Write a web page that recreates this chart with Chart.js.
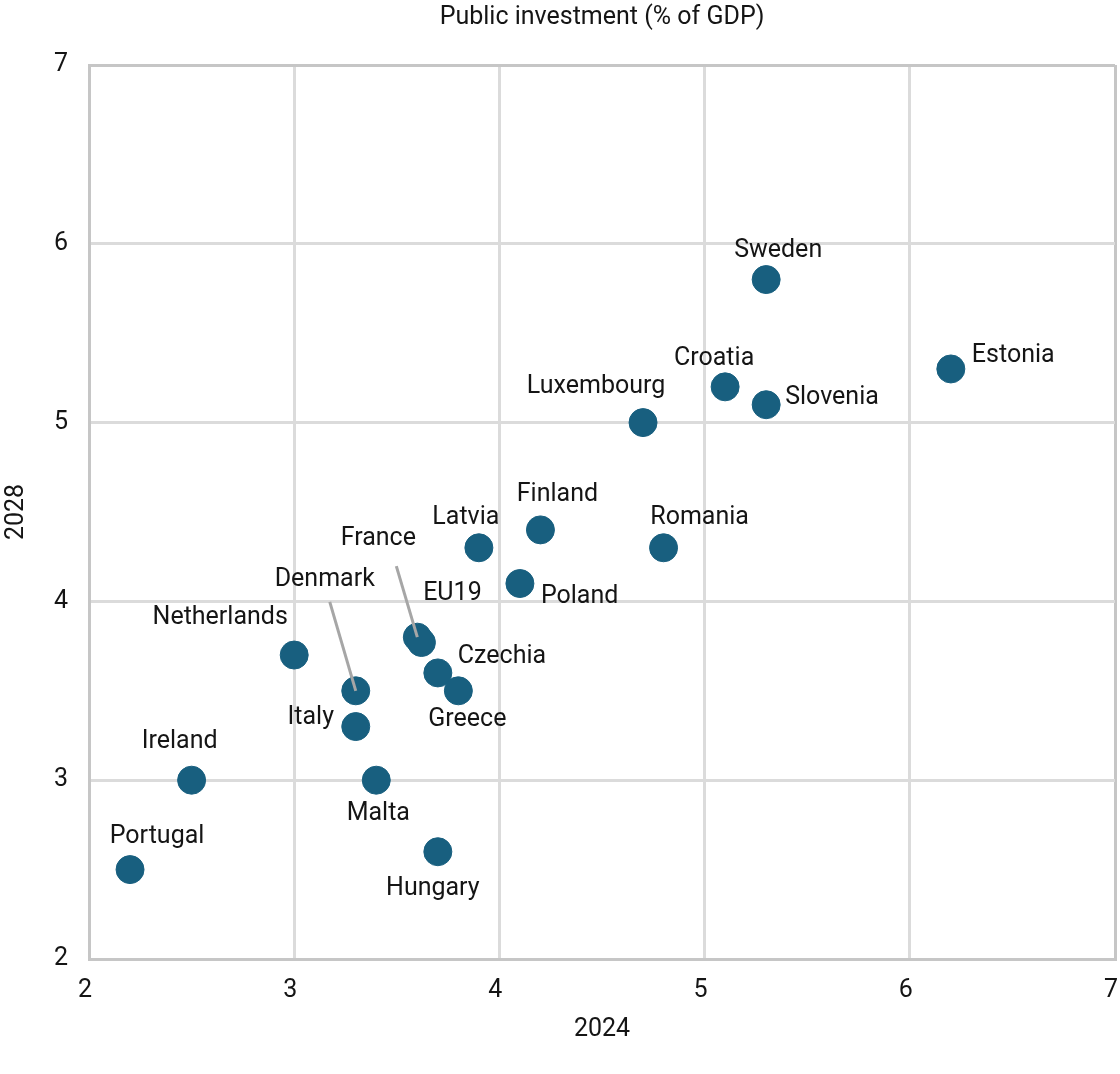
<!DOCTYPE html>
<html>
<head>
<meta charset="utf-8">
<script src="https://cdn.jsdelivr.net/npm/chart.js@4"></script>
<style>
    body { margin: 0; background: #fff; }
    #wrap { width: 1120px; height: 1074px; }
</style>
</head>
<body>
<div id="wrap"><canvas id="scatterChart" width="1120" height="1074"></canvas></div>
<script>
// Data
const countries = ['Portugal', 'Ireland', 'Netherlands', 'Denmark', 'Italy', 'Malta', 'France', 'EU19', 'Czechia', 'Hungary',
    'Greece', 'Latvia', 'Poland', 'Finland', 'Luxembourg', 'Romania', 'Croatia', 'Sweden', 'Slovenia', 'Estonia'];
const invest2024 = [2.2, 2.5, 3.0, 3.3, 3.3, 3.4, 3.6, 3.62, 3.7, 3.7, 3.8, 3.9, 4.1, 4.2, 4.7, 4.8, 5.1, 5.3, 5.3, 6.2];
const invest2028 = [2.5, 3.0, 3.7, 3.5, 3.3, 3.0, 3.8, 3.77, 3.6, 2.6, 3.5, 4.3, 4.1, 4.4, 5.0, 4.3, 5.2, 5.8, 5.1, 5.3];
const axisTicks = [2, 3, 4, 5, 6, 7];

const chartTitle = 'Public investment (% of GDP)';
const xTitle = '2024';
const yTitle = '2028';

// Label placement (pixel offsets from the point)
const labelPlacement = {
    Portugal: [27, -33, 'center'], Ireland: [-12, -38, 'center'], Netherlands: [-74, -37, 'center'],
    Denmark: [-31, -111, 'center'], Italy: [-45, -9, 'center'], Malta: [2, 34, 'center'],
    France: [-39, -98, 'center'], EU19: [31, -49, 'center'], Czechia: [20, -16, 'left'],
    Hungary: [-5, 37, 'center'], Greece: [9, 29, 'center'], Latvia: [-13, -30, 'center'],
    Poland: [21, 13, 'left'], Finland: [17, -35, 'center'], Luxembourg: [-47, -36, 'center'],
    Romania: [36, -30, 'center'], Croatia: [-11, -28, 'center'], Sweden: [12, -29, 'center'],
    Slovenia: [19, -7, 'left'], Estonia: [21, -13, 'left']
};
const leaders = { France: [-21, -71], Denmark: [-26, -89] };

const FONT = 'Roboto, "Liberation Sans", sans-serif';
const TEXT = '#151515';

const labelPlugin = {
    id: 'pointLabels',
    afterDatasetsDraw(chart) {
        const ctx = chart.ctx;
        const meta = chart.getDatasetMeta(0);
        ctx.save();
        // leader lines
        ctx.strokeStyle = '#a6a6a6';
        ctx.lineWidth = 3;
        countries.forEach((name, i) => {
            if (!leaders[name]) return;
            const p = meta.data[i];
            ctx.beginPath();
            ctx.moveTo(p.x + leaders[name][0], p.y + leaders[name][1]);
            ctx.lineTo(p.x, p.y);
            ctx.stroke();
        });
        ctx.font = '25px ' + FONT;
        ctx.fillStyle = TEXT;
        ctx.textBaseline = 'middle';
        countries.forEach((name, i) => {
            const p = meta.data[i];
            const pl = labelPlacement[name];
            ctx.textAlign = pl[2];
            ctx.fillText(name, p.x + pl[0], p.y + pl[1]);
        });
        // title centred over the plot area
        const area = chart.chartArea;
        ctx.textAlign = 'center';
        ctx.fillText(chartTitle, (area.left + area.right) / 2, 18);
        ctx.restore();
    }
};

const gridColor = (c) => (c.tick && (c.tick.value === 2 || c.tick.value === 7)) ? '#c6c6c6' : '#dbdbdb';

new Chart(document.getElementById('scatterChart'), {
    type: 'scatter',
    data: {
        datasets: [{
            data: invest2024.map((x, i) => ({ x: x, y: invest2028[i] })),
            backgroundColor: '#185f7f',
            borderColor: '#185f7f',
            borderWidth: 1,
            pointRadius: 14,
            pointHoverRadius: 14
        }]
    },
    options: {
        responsive: false,
        animation: false,
        devicePixelRatio: 1,
        layout: { autoPadding: false, padding: { top: 65, right: 5, left: 0, bottom: 0 } },
        plugins: { legend: { display: false }, tooltip: { enabled: false }, title: { display: false } },
        scales: {
            x: {
                type: 'linear', min: 2, max: 7,
                afterBuildTicks: (s) => { s.ticks = axisTicks.map(v => ({ value: v })); },
                afterFit: (s) => { s.height = 115; s.paddingLeft = 0; s.paddingRight = 0; },
                grid: { color: gridColor, lineWidth: 3, drawTicks: false },
                border: { color: '#c6c6c6', width: 3 },
                ticks: { padding: 17, labelOffset: -4, color: TEXT, font: { family: FONT, size: 25 } },
                title: { display: true, text: xTitle, color: TEXT, font: { family: FONT, size: 25 }, padding: { bottom: 29 } }
            },
            y: {
                type: 'linear', min: 2, max: 7,
                afterBuildTicks: (s) => { s.ticks = axisTicks.map(v => ({ value: v })); },
                afterFit: (s) => { s.width = 89; s.paddingTop = 0; s.paddingBottom = 0; },
                grid: { color: gridColor, lineWidth: 3, drawTicks: false },
                border: { color: '#c6c6c6', width: 3 },
                ticks: { padding: 21, color: TEXT, font: { family: FONT, size: 25 } },
                title: { display: true, text: yTitle, color: TEXT, font: { family: FONT, size: 25 }, padding: { top: 2 } }
            }
        }
    },
    plugins: [labelPlugin]
});
</script>
</body>
</html>
